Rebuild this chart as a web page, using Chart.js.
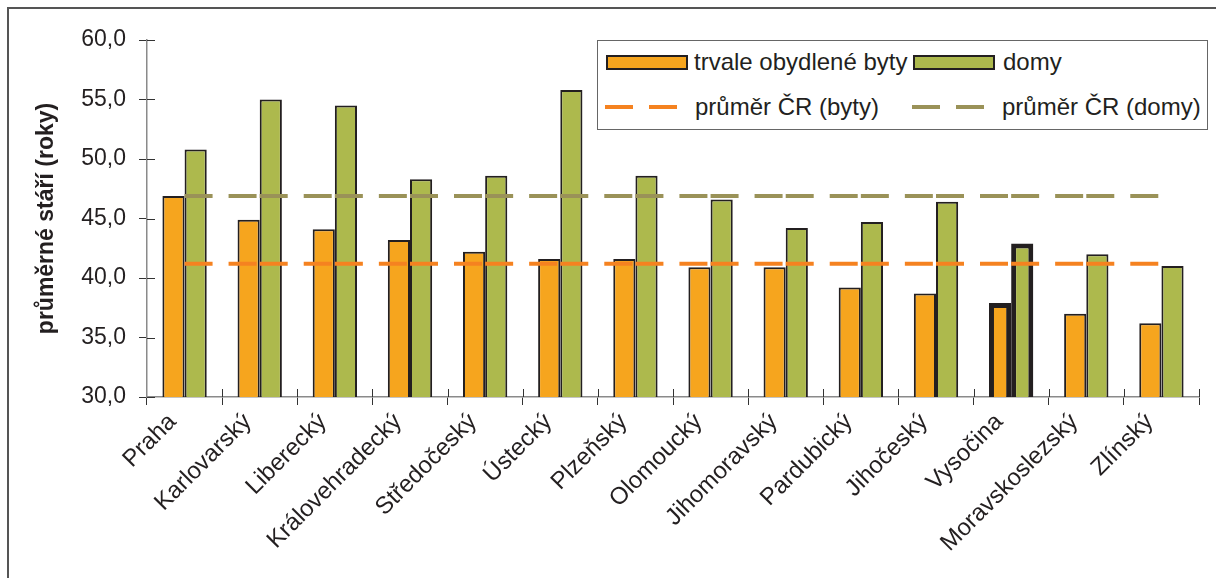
<!DOCTYPE html>
<html lang="cs">
<head>
<meta charset="utf-8">
<title>Průměrné stáří bytů a domů podle krajů</title>
<script src="https://cdn.jsdelivr.net/npm/chart.js@4.4.1/dist/chart.umd.min.js"></script>
<style>
  body { margin: 0; background: #fff; }
  #wrap { position: relative; width: 1216px; height: 578px; font-family: 'Liberation Sans', Arial, sans-serif; color: #231f20; }
  #frame { position: absolute; left: 7px; top: 7px; right: 0; bottom: 0; border-left: 2px solid #555; border-top: 2px solid #555; pointer-events: none; }
  #legend { position: absolute; left: 597px; top: 40px; width: 609px; height: 88px; border: 1px solid #666; background: #fff; font-size: 24px; }
  .item { position: absolute; display: flex; align-items: center; height: 30px; white-space: nowrap; }
  .box { display: inline-block; width: 78px; height: 11px; border: 2px solid #231f20; }
  .dash { display: inline-block; width: 72px; height: 4px; }
</style>
</head>
<body>
<div id="wrap">
  <canvas id="myChart" width="1216" height="578"></canvas>
  <div id="frame"></div>
  <div id="legend"></div>
</div>
<script>
// kraje a hodnoty (roky)
const regions = ['Praha', 'Karlovarský', 'Liberecký', 'Královehradecký', 'Středočeský', 'Ústecký',
  'Plzeňský', 'Olomoucký', 'Jihomoravský', 'Pardubický', 'Jihočeský', 'Vysočina', 'Moravskoslezský', 'Zlínský'];
const byty = [46.9, 44.9, 44.1, 43.2, 42.2, 41.6, 41.6, 40.9, 40.9, 39.2, 38.7, 37.9, 37.0, 36.2];
const domy = [50.8, 55.0, 54.5, 48.3, 48.6, 55.8, 48.6, 46.6, 44.2, 44.7, 46.4, 42.9, 42.0, 41.0];
const prumerByty = 41.2;
const prumerDomy = 46.9;
const yTicks = [30, 35, 40, 45, 50, 55, 60];
const zvyrazneny = 'Vysočina';

const seriesNames = ['trvale obydlené byty', 'domy', 'průměr ČR (byty)', 'průměr ČR (domy)'];
const colors = { byty: '#f6a51e', domy: '#adb94d', lineByty: '#f58220', lineDomy: '#9a9258', edge: '#231f20' };

const textColor = '#231f20';
const font = "'Liberation Sans', Arial, sans-serif";

// Vysočina má silný rámeček
const edgeWidth = (c) => regions[c.dataIndex] === zvyrazneny ? 5 : 2;

// přerušovaná čára: vzor začíná znovu u každého kraje
function dashPattern(c) {
  const step = c.chart.chartArea ? c.chart.chartArea.width / regions.length : 75;
  return [28, 16, 28, Math.max(step - 72, 1)];
}

const innerTicks = {
  id: 'innerTicks',
  beforeDatasetsDraw(chart) {
    const { ctx, chartArea, scales: { x, y } } = chart;
    ctx.save();
    ctx.strokeStyle = '#333';
    ctx.lineWidth = 1;
    ctx.beginPath();
    y.ticks.forEach((t, i) => {
      const py = Math.round(y.getPixelForTick(i)) + 0.5;
      ctx.moveTo(chartArea.left, py);
      ctx.lineTo(chartArea.left + 8, py);
    });
    const step = x.width / regions.length;
    for (let i = 1; i <= regions.length; i++) {
      const px = Math.round(x.left + i * step) + 0.5;
      ctx.moveTo(px, chartArea.bottom);
      ctx.lineTo(px, chartArea.bottom - 8);
    }
    ctx.stroke();
    ctx.restore();
  }
};

const ctx = document.getElementById('myChart').getContext('2d');

const chart = new Chart(ctx, {
  type: 'bar',
  data: {
    labels: regions,
    datasets: [
      {
        label: seriesNames[0],
        data: byty,
        backgroundColor: colors.byty,
        borderColor: colors.edge,
        borderWidth: edgeWidth,
        borderSkipped: false,
        order: 1
      },
      {
        label: seriesNames[1],
        data: domy,
        backgroundColor: colors.domy,
        borderColor: colors.edge,
        borderWidth: edgeWidth,
        borderSkipped: false,
        order: 1
      },
      {
        type: 'line',
        label: seriesNames[2],
        data: [{ x: regions[0], y: prumerByty }, { x: regions[regions.length - 1], y: prumerByty }],
        borderColor: colors.lineByty,
        borderWidth: 4,
        borderDash: dashPattern,
        pointRadius: 0,
        fill: false,
        order: 0
      },
      {
        type: 'line',
        label: seriesNames[3],
        data: [{ x: regions[0], y: prumerDomy }, { x: regions[regions.length - 1], y: prumerDomy }],
        borderColor: colors.lineDomy,
        borderWidth: 4,
        borderDash: dashPattern,
        pointRadius: 0,
        fill: false,
        order: 0
      }
    ]
  },
  options: {
    responsive: false,
    animation: false,
    layout: { padding: { top: 40, right: 17, bottom: 0, left: 0 } },
    datasets: { bar: { categoryPercentage: 0.59, barPercentage: 1.0 } },
    plugins: {
      legend: { display: false },
      tooltip: { enabled: false }
    },
    scales: {
      x: {
        afterFit: (scale) => { scale.height = 181; },
        grid: { drawOnChartArea: false, tickLength: 8, color: '#333', offset: true },
        border: { color: '#8a8a8a', width: 1.5 },
        ticks: {
          color: textColor,
          font: { family: font, size: 24 },
          minRotation: 45,
          maxRotation: 45,
          autoSkip: false,
          padding: 3,
          labelOffset: -12
        }
      },
      y: {
        min: 30,
        max: 60,
        afterFit: (scale) => { scale.width = 147; },
        afterBuildTicks: (scale) => { scale.ticks = yTicks.map(v => ({ value: v })); },
        grid: { drawOnChartArea: false, tickLength: 8, color: '#333' },
        border: { color: '#8a8a8a', width: 1.5 },
        ticks: {
          color: textColor,
          font: { family: font, size: 23 },
          padding: 13,
          callback: (v) => Number(v).toFixed(1).replace('.', ',')
        },
        title: {
          display: true,
          text: 'průměrné stáří (roky)',
          color: textColor,
          font: { family: font, size: 23, weight: 'bold' },
          padding: { top: 33, bottom: 0 }
        }
      }
    }
  },
  plugins: [innerTicks]
});

// legenda v rámečku vpravo nahoře
const legend = document.getElementById('legend');
function dashBg(c) {
  return `linear-gradient(to right, ${c} 0 28px, transparent 28px 44px, ${c} 44px 72px)`;
}
const legendItems = [
  { left: 8, top: 6, html: `<span class="box" style="background:${colors.byty}"></span><span style="margin-left:6px">${seriesNames[0]}</span>` },
  { left: 315, top: 6, html: `<span class="box" style="background:${colors.domy}"></span><span style="margin-left:8px">${seriesNames[1]}</span>` },
  { left: 7, top: 51, html: `<span class="dash" style="background:${dashBg(colors.lineByty)}"></span><span style="margin-left:18px">${seriesNames[2]}</span>` },
  { left: 314, top: 51, html: `<span class="dash" style="background:${dashBg(colors.lineDomy)}"></span><span style="margin-left:18px">${seriesNames[3]}</span>` }
];
legendItems.forEach(it => {
  const d = document.createElement('div');
  d.className = 'item';
  d.style.left = it.left + 'px';
  d.style.top = it.top + 'px';
  d.innerHTML = it.html;
  legend.appendChild(d);
});
</script>
</body>
</html>
